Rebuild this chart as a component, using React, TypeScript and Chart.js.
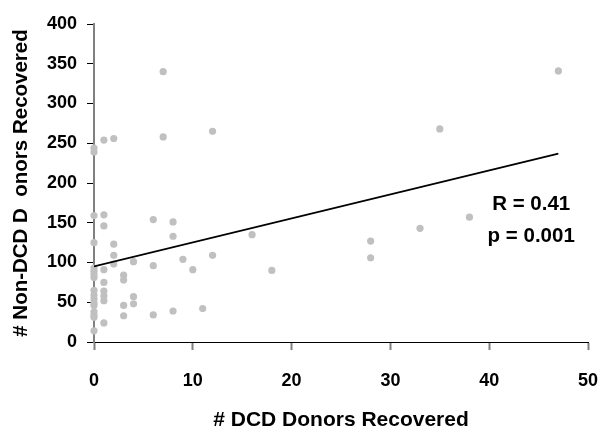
import React, { useEffect, useRef } from "react";
import { Chart, registerables } from "chart.js";

Chart.register(...registerables);

const dcdDonors: number[] = [
  0, 0, 0, 0, 0, 0, 0, 0, 0, 0, 0, 0, 0, 0, 0, 0, 0,
  1, 1, 1, 1, 1, 1, 1, 1, 1,
  2, 2, 2, 2,
  3, 3, 3, 3,
  4, 4, 4,
  6, 6, 6,
  7, 7,
  8, 8, 8,
  9, 10, 11,
  12, 12,
  16, 18,
  28, 28,
  33, 35, 38, 47,
];
const nonDcdDonors: number[] = [
  244, 239, 159, 125, 93, 89, 85, 81, 65, 59, 54, 49, 46, 38, 34, 31, 14,
  254, 160, 146, 91, 75, 64, 58, 52, 24,
  256, 123, 109, 98,
  84, 78, 46, 33,
  101, 57, 48,
  154, 96, 34,
  340, 258,
  151, 133, 39,
  104, 91, 42,
  265, 109,
  135, 90,
  127, 106,
  143, 268, 157, 341,
];
const trendX: number[] = [0, 47];
const trendY: number[] = [95, 237];
const xTicks: number[] = [0, 10, 20, 30, 40, 50];
const yTicks: number[] = [0, 50, 100, 150, 200, 250, 300, 350, 400];
const statLines: string[] = ["R = 0.41", "p = 0.001"];
const statPos: { x: number; y: number }[] = [
  { x: 44.25, y: 173 },
  { x: 44.25, y: 133 },
];

const FONT = "'Liberation Sans', Arial, Helvetica, sans-serif";

export default function App() {
  const ref = useRef<HTMLCanvasElement | null>(null);

  useEffect(() => {
    document.body.style.margin = "0";
    const canvas = ref.current;
    if (!canvas) return;

    const statPlugin = {
      id: "statText",
      afterDatasetsDraw(chart: any) {
        const { ctx, scales } = chart;
        ctx.save();
        ctx.font = `bold 20.5px ${FONT}`;
        ctx.fillStyle = "#000";
        ctx.textAlign = "center";
        ctx.textBaseline = "middle";
        statLines.forEach((t, i) => {
          ctx.fillText(
            t,
            scales.x.getPixelForValue(statPos[i].x),
            scales.y.getPixelForValue(statPos[i].y)
          );
        });
        ctx.restore();
      },
    };

    const chart = new Chart(canvas, {
      type: "scatter",
      data: {
        datasets: [
          {
            type: "line",
            data: trendX.map((x, i) => ({ x, y: trendY[i] })),
            borderColor: "#000",
            borderWidth: 1.7,
            pointRadius: 0,
            fill: false,
            tension: 0,
          } as any,
          {
            data: dcdDonors.map((x, i) => ({ x, y: nonDcdDonors[i] })),
            backgroundColor: "#c0c0c0",
            borderColor: "#c0c0c0",
            borderWidth: 0,
            pointRadius: 3.6,
            clip: false,
          } as any,
        ],
      },
      options: {
        responsive: false,
        animation: false,
        layout: { padding: { left: 0, right: 13, top: 24, bottom: 0 } },
        plugins: {
          legend: { display: false },
          tooltip: { enabled: false },
          title: { display: false },
        },
        scales: {
          x: {
            type: "linear",
            min: 0,
            max: 50,
            afterBuildTicks: (s: any) => {
              s.ticks = xTicks.map((v) => ({ value: v }));
            },
            afterFit: (s: any) => {
              s.height = 89;
              s.paddingLeft = 0;
              s.paddingRight = 0;
            },
            border: { color: "#000", width: 1 },
            grid: {
              drawOnChartArea: false,
              drawTicks: true,
              tickLength: 8,
              tickColor: "#808080",
              tickWidth: 2,
            },
            ticks: {
              color: "#000",
              padding: 20,
              maxRotation: 0,
              font: { family: FONT, size: 18, weight: "bold" },
            },
            title: {
              display: true,
              text: "# DCD Donors Recovered",
              color: "#000",
              font: { family: FONT, size: 21, weight: "bold", lineHeight: 1 },
              padding: { top: 0, bottom: 0 },
            },
          },
          y: {
            type: "linear",
            min: 0,
            max: 400,
            afterBuildTicks: (s: any) => {
              s.ticks = yTicks.map((v) => ({ value: v }));
            },
            afterFit: (s: any) => {
              s.width = 94;
              s.paddingTop = 0;
              s.paddingBottom = 0;
            },
            border: { color: "#808080", width: 2 },
            grid: {
              drawOnChartArea: false,
              drawTicks: true,
              tickLength: 7,
              tickColor: "#000",
              tickWidth: 1,
            },
            ticks: {
              color: "#000",
              padding: 10,
              font: { family: FONT, size: 18, weight: "bold" },
            },
            title: {
              display: true,
              text: "# Non-DCD D  onors Recovered",
              color: "#000",
              font: { family: FONT, size: 20.5, weight: "bold", lineHeight: 1 },
              padding: { top: 11, bottom: 0 },
            },
          },
        },
      },
      plugins: [statPlugin],
    });

    return () => chart.destroy();
  }, []);

  return <canvas ref={ref} width={601} height={431} style={{ display: "block" }} />;
}
